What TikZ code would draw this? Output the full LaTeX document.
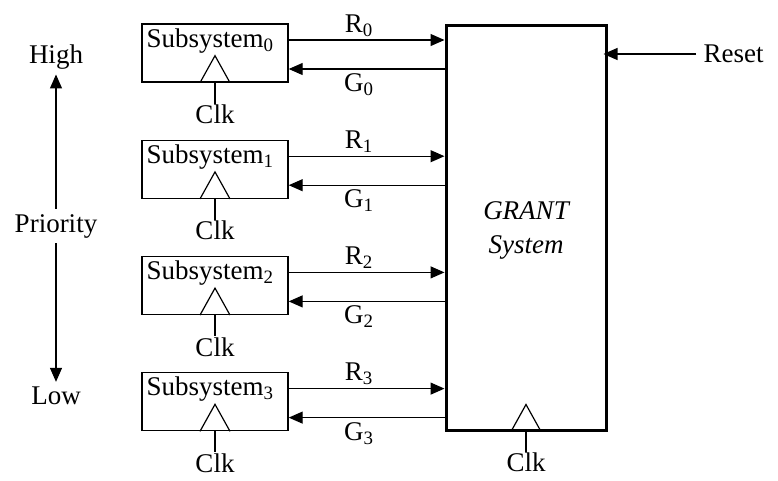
\documentclass[tikz,border=0pt]{standalone}
\usepackage{fontspec}
\setmainfont{Liberation Serif}
\usetikzlibrary{arrows.meta}

\tikzset{
  subbox/.style={draw, line width=1.4pt, minimum width=146pt, minimum height=58pt, inner sep=0pt},
  sig/.style={line width=1.2pt, -{Triangle[length=14pt,width=12pt]}},
  clkline/.style={line width=1.2pt},
  clklabel/.style={below, inner sep=1pt, text depth=0pt},
}

\begin{document}
\begin{tikzpicture}[x=1pt, y=-1pt, font=\fontsize{27}{30}\selectfont]
      \useasboundingbox (0,0) rectangle (778,480);
      % the grant block
      \node[draw, line width=3pt, minimum width=160pt, minimum height=405pt] (grant) at (526,227.5) {};
      \node[align=center, font=\fontsize{27}{30}\selectfont\itshape] (gname) at (526,230) {GRANT\\[4pt]System};
      \draw[clkline] ([xshift=-15pt]grant.south) -- ++(15,-27) -- ++(15,27);
      \draw[clkline] (grant.south) -- ++(0,20) coordinate (gclk);
      \node[clklabel] (gclktext) at (gclk) {Clk};
      % reset input
      \node[anchor=west] (reset) at (700,54) {Reset};
      \draw[sig] ([xshift=-4pt]reset.west) -- ([xshift=-4pt]reset.west -| grant.east);
      % the subsystems
      \foreach \i in {0,...,3} {
        \node[subbox] (sub\i) at (215,53+116.2*\i) {};
        \node[anchor=base west, inner sep=0pt] (sname\i) at ([shift={(5,24)}]sub\i.north west) {Subsystem\textsubscript{\i}};
        \draw[clkline] ([xshift=-15pt]sub\i.south) -- ++(15,-27) -- ++(15,27);
        \draw[clkline] (sub\i.south) -- ++(0,21) coordinate (clk\i);
        \node[clklabel] (clktext\i) at (clk\i) {Clk};
        \draw[sig] ([yshift=13pt]sub\i.east) -- ([yshift=13pt]sub\i.east -| grant.west)
          node[pos=0.45, above=3pt, inner sep=0pt] (req\i) {R\textsubscript{\i}};
        \draw[sig] ([yshift=-16pt]sub\i.east -| grant.west) -- ([yshift=-16pt]sub\i.east)
          node[pos=0.55, below=4pt, inner sep=0pt] (gnt\i) {G\textsubscript{\i}};
      }
      % priority scale
      \node[inner sep=5pt] (high) at (56,57) {High};
      \node[inner sep=5pt] (prio) at (56,226) {Priority};
      \node[inner sep=5pt] (low) at (56,396) {Low};
      \draw[sig] (prio) -- (high);
      \draw[sig] (prio) -- (low);
\end{tikzpicture}
\end{document}
